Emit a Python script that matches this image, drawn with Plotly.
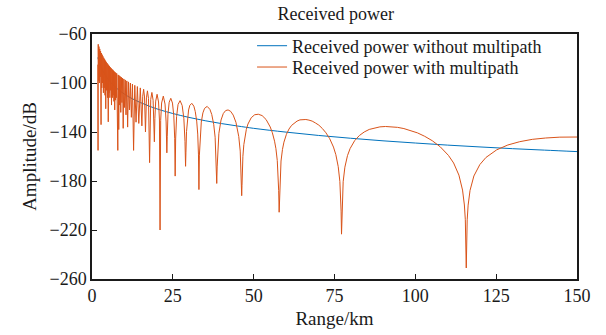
import plotly.graph_objects as go

# ---- data ----
range_free_km = [1.8, 2, 2.5, 3, 4, 5, 6, 8, 10, 12, 15, 18, 21, 25, 30, 35, 40, 45,
                 50, 60, 70, 80, 90, 100, 110, 120, 130, 140, 150]
power_free_db = [-79.2, -81.0, -84.9, -88.1, -93.1, -97.0, -100.1, -105.1, -109.0, -112.2,
                 -116.0, -119.2, -121.9, -124.9, -128.1, -130.8, -133.1, -135.1,
                 -137.0, -140.1, -142.8, -145.1, -147.2, -149.0, -150.7, -152.2, -153.6,
                 -154.8, -156.0]

range_multi_km = [
    1.80, 1.87, 1.93, 2.05, 2.15, 2.28, 2.40, 2.53, 2.65, 2.80, 2.90, 3.03, 3.15, 3.28,
    3.40, 3.53, 3.65, 3.78, 3.90, 4.03, 4.15, 4.25, 4.40, 4.53, 4.65, 4.78, 4.90, 5.03,
    5.15, 5.28, 5.40, 5.53, 5.65, 5.78, 5.90, 6.03, 6.15, 6.28, 6.40, 6.53, 6.65, 6.78,
    6.90, 7.03, 7.15, 7.28, 7.40, 7.53, 7.65, 7.78, 7.85,
    7.98, 8.12, 8.27, 8.42, 8.57, 8.74, 8.90, 9.08, 9.26, 9.45, 9.65, 9.85, 10.07, 10.29,
    10.52, 10.77, 11.02, 11.29, 11.58, 11.87, 12.18, 12.51, 12.86, 13.23, 13.62, 14.03,
    14.47, 14.94, 15.43, 15.69, 15.97, 16.25, 16.54, 16.84, 17.15, 17.47, 17.81, 18.16,
    18.52, 18.90, 19.29, 19.45, 19.70, 20.13, 20.58, 20.86, 21.05, 21.24, 21.53, 22.05,
    22.59, 22.92, 23.15, 23.27, 23.50, 23.87, 24.37, 24.89, 25.30, 25.58, 25.72, 25.87,
    26.16, 26.61, 27.24, 27.89, 28.40, 28.76, 28.94, 29.05, 29.23, 29.49, 29.87, 30.26,
    30.87, 31.50, 31.93, 32.38, 32.70, 32.93, 33.07, 33.21, 33.45, 33.80, 34.30, 34.81,
    35.62, 36.46, 37.04, 37.64, 38.08, 38.39, 38.58, 38.71, 38.91, 39.24, 39.91, 40.61,
    41.34, 42.09, 42.87, 43.68, 44.52, 45.39, 45.84, 46.12, 46.30, 46.39, 46.49, 46.67,
    46.96, 47.24, 47.73, 48.23, 49.26, 50.33, 51.44, 52.61, 53.84, 55.12, 55.78, 56.46,
    56.88, 57.30, 57.59, 57.73, 57.88, 57.95, 58.02, 58.17, 58.46, 58.91, 59.36, 60.13,
    60.92, 61.73, 62.57, 63.42, 64.31, 65.21, 66.14, 67.10, 68.09, 69.10, 70.15, 71.23,
    72.34, 73.49, 74.68, 75.41, 76.15, 76.66, 76.91, 77.04, 77.17, 77.30, 77.42, 77.68,
    78.21, 79.01, 79.83, 81.23, 82.68, 84.18, 85.74, 87.36, 89.04, 90.78, 92.60, 94.49,
    96.46, 98.51, 100.65, 102.89, 105.23, 107.67, 110.24, 111.84, 113.48, 114.60, 115.17,
    115.46, 115.75, 116.04, 116.33, 116.92, 118.11, 119.95, 121.84, 125.14, 128.61,
    132.29, 136.18, 140.30, 144.69, 150.00]
power_multi_db = [
    -85, -155, -68.4, -98, -70.3, -100, -72.2, -95, -73.9, -134, -75.5, -104, -76.9, -100,
    -78.3, -108, -79.5, -104, -80.6, -110, -81.7, -121, -82.7, -106, -83.7, -112, -84.6, -131.7,
    -85.5, -108, -86.3, -112, -87.1, -106, -87.8, -118, -88.6, -112, -89.2, -110, -89.9, -115,
    -90.6, -122, -91.2, -114, -91.8, -112, -92.3, -116, -93.0,
    -155, -93.4, -138, -94.0, -118, -94.7, -124, -95.3, -116, -96.0, -137, -96.7, -120, -97.5,
    -126, -98.3, -136, -99.1, -122, -100.0, -128, -100.9, -155, -101.9, -132, -102.9,
    -133, -104.0, -135, -110.8, -105.1, -111.4, -140, -112.1, -106.4, -112.7, -165, -113.4,
    -107.7, -114.1, -148, -129.0, -114.8, -109.2, -115.5, -130.2, -220, -130.5, -116.3, -110.7,
    -117.2, -131.8, -157, -143.9, -125.5, -115.7, -112.5, -116.4, -126.8, -145.5, -176, -145.7,
    -127.4, -117.6, -114.4, -118.4, -128.8, -147.6, -168, -156.5, -139.7, -129.5, -122.0, -118.2,
    -116.6, -118.9, -123.2, -131.1, -141.7, -158.7, -187, -158.9, -142.1, -131.9, -124.4, -120.7,
    -119.1, -121.5, -125.7, -133.7, -144.3, -161.4, -182, -168.5, -152.8, -141.1, -130.2, -124.9,
    -122.5, -122.0, -123.1, -126.2, -132.1, -143.7, -155.6, -171.6, -192, -183.8, -171.7, -159.8,
    -150.3, -144.4, -137.9, -133.5, -128.3, -125.9, -125.5, -126.6, -129.8, -135.9, -140.6, -147.5,
    -153.6, -163.3, -175.4, -187.6, -205.5, -199.6, -187.6, -175.6, -163.7, -154.2, -148.3, -141.9,
    -137.6, -134.6, -132.5, -131.1, -130.1, -129.8, -129.8, -130.3, -131.1, -132.6, -134.4, -137.1,
    -140.6, -145.3, -152.3, -158.5, -168.3, -180.4, -192.5, -204.6, -223.4, -204.6, -192.7, -180.6,
    -168.7, -159.3, -153.5, -147.1, -142.9, -140.0, -137.9, -136.7, -135.8, -135.5, -135.7, -136.2,
    -137.2, -138.7, -140.7, -143.5, -147.1, -152.0, -159.1, -165.3, -175.2, -187.4, -199.6,
    -211.6, -251, -211.7, -199.7, -187.7, -175.9, -166.6, -160.8, -154.6, -150.6,
    -147.9, -146.0, -144.9, -144.2, -144.1]

x_ticks = [0, 25, 50, 75, 100, 125, 150]
y_ticks = [-260, -220, -180, -140, -100, -60]

title_text = "Received power"
name_free = "Received power without multipath"
name_multi = "Received power with multipath"
x_label = "Range/km"
y_label = "Amplitude/dB"

# ---- figure ----
FONT = "Liberation Serif, Times New Roman, serif"
INK = "#1a1a1a"

fig = go.Figure()
fig.add_trace(go.Scatter(x=range_free_km, y=power_free_db, mode="lines", name=name_free,
                         line=dict(color="#0072BD", width=1.0, shape="spline"),
                         legend="legend", showlegend=True))
fig.add_trace(go.Scatter(x=range_multi_km, y=power_multi_db, mode="lines", name=name_multi,
                         line=dict(color="#D95319", width=1.0),
                         legend="legend2", showlegend=True))

axis_common = dict(showgrid=False, zeroline=False, showline=True, linecolor=INK,
                   linewidth=1.5, mirror=True, ticks="inside", ticklen=5, tickwidth=1,
                   tickcolor=INK, tickfont=dict(family=FONT, size=18, color=INK))

legend_common = dict(x=0.33, xanchor="left", yanchor="middle", bgcolor="rgba(0,0,0,0)",
                     font=dict(family=FONT, size=18, color=INK), itemwidth=30)

fig.update_layout(
    width=606, height=335,
    showlegend=True,
    margin=dict(l=92, r=29, t=34, b=56, autoexpand=False),
    paper_bgcolor="white", plot_bgcolor="white",
    font=dict(family=FONT, color=INK, size=18),
    title=dict(text=title_text, x=0.554, xanchor="center", y=1 - 14 / 335, yanchor="middle",
               yref="container", font=dict(family=FONT, size=18, color=INK)),
    xaxis=dict(range=[0, 150], tickvals=x_ticks,
               title=dict(text=x_label, font=dict(family=FONT, size=19, color=INK), standoff=6),
               **axis_common),
    yaxis=dict(range=[-260, -60], tickvals=y_ticks,
               title=dict(text=y_label, font=dict(family=FONT, size=19, color=INK), standoff=8),
               **axis_common),
    legend=dict(y=0.951, **legend_common),
    legend2=dict(y=0.864, **legend_common),
)

fig.write_html("out.html")
